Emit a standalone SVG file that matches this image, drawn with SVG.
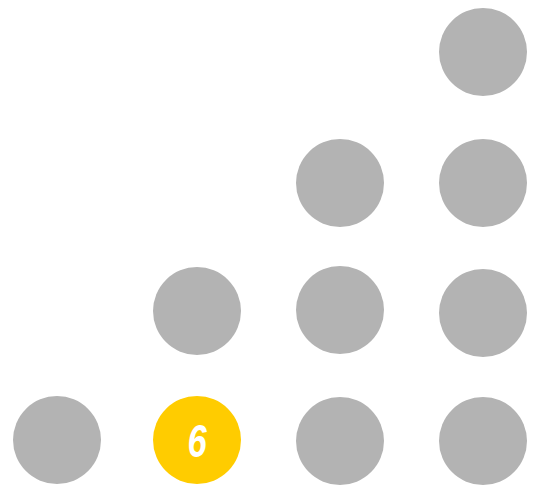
<svg xmlns="http://www.w3.org/2000/svg" width="538" height="486" viewBox="0 0 538 486">
<style>
.dot{fill:#b3b3b3}
.hl{fill:#ffcc00}
.lbl{fill:#ffffff;font-family:"Liberation Sans",Arial,sans-serif;font-weight:bold;font-style:italic;font-size:46px}
</style>
<rect width="538" height="486" fill="#ffffff"/>
<g id="n-c1r4"><circle class="dot" cx="57" cy="440" r="44"/></g>
<g id="n-c2r3"><circle class="dot" cx="197" cy="311" r="44"/></g>
<g id="n-c2r4"><circle class="hl" cx="197" cy="440" r="44"/><text class="lbl" transform="translate(197,457) scale(0.75,1)" text-anchor="middle">6</text></g>
<g id="n-c3r2"><circle class="dot" cx="340" cy="183" r="44"/></g>
<g id="n-c3r3"><circle class="dot" cx="340" cy="310" r="44"/></g>
<g id="n-c3r4"><circle class="dot" cx="340" cy="441" r="44"/></g>
<g id="n-c4r1"><circle class="dot" cx="483" cy="52" r="44"/></g>
<g id="n-c4r2"><circle class="dot" cx="483" cy="183" r="44"/></g>
<g id="n-c4r3"><circle class="dot" cx="483" cy="313" r="44"/></g>
<g id="n-c4r4"><circle class="dot" cx="483" cy="441" r="44"/></g>
<g id="connectors"/>
</svg>
